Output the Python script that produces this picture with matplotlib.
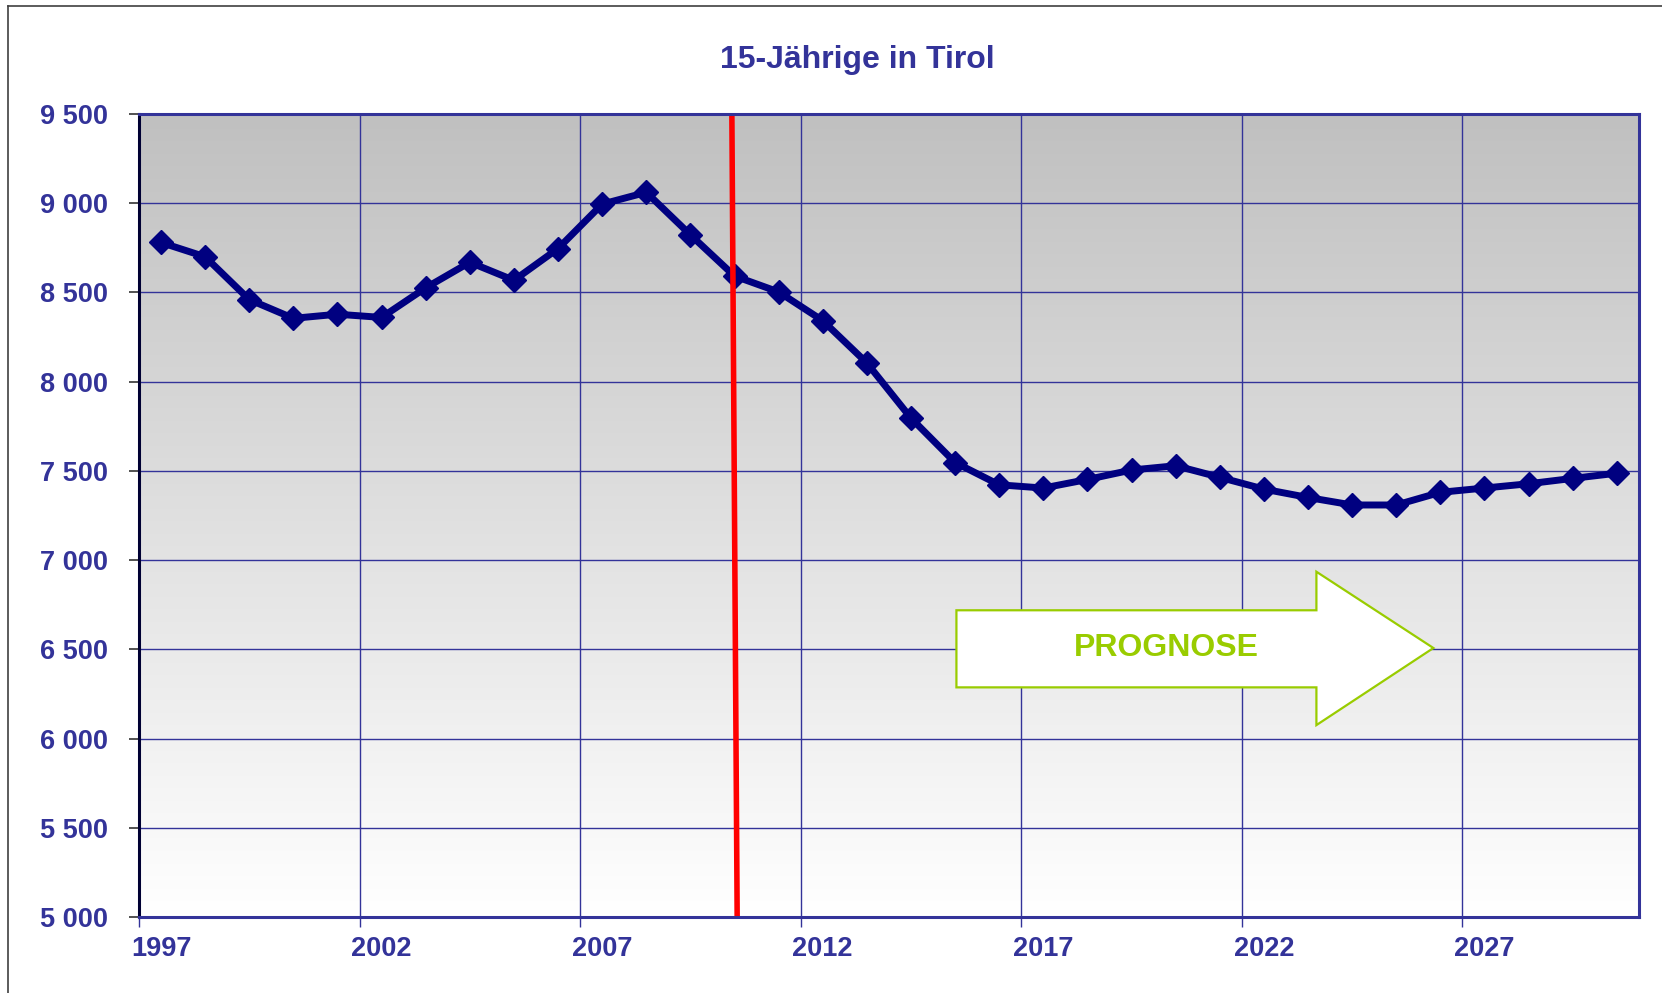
import matplotlib
matplotlib.use("Agg")
import matplotlib.pyplot as plt
import numpy as np
from matplotlib.patches import Polygon
from matplotlib.lines import Line2D

plt.rcParams["font.family"] = ["Liberation Sans", "DejaVu Sans"]

years = list(range(1997, 2031))
values = [8780, 8700, 8460, 8355, 8378, 8360, 8526, 8669, 8568, 8746,
          8995, 9061, 8823, 8592, 8503, 8342, 8105, 7796, 7547, 7422,
          7404, 7452, 7505, 7529, 7464, 7398, 7351, 7309, 7309, 7380,
          7404, 7428, 7458, 7487]
label_years = [1997, 2002, 2007, 2012, 2017, 2022, 2027]
y_ticks = [5000, 5500, 6000, 6500, 7000, 7500, 8000, 8500, 9000, 9500]

TXT = "#333399"
NAVY = "#000080"
GREEN = "#99cc00"

fig = plt.figure(figsize=(16.62, 9.93), dpi=100)
ax = fig.add_axes([0.0836, 0.0765, 0.9025, 0.8087])

n = len(years)
xs = np.arange(n) + 0.5
ax.set_xlim(0, n)
ax.set_ylim(5000, 9500)

# gray -> white gradient background
grad = np.linspace(1.0, 0.0, 256).reshape(-1, 1)
ax.imshow(grad, extent=[0, 1, 0, 1], transform=ax.transAxes, aspect="auto",
          cmap=matplotlib.colors.LinearSegmentedColormap.from_list(
              "g", ["#ffffff", "#c0c0c0"]), vmin=0, vmax=1, zorder=0)

# grid
for yt in y_ticks[1:-1]:
    ax.axhline(yt, color=TXT, lw=1.0, zorder=1)
for b in range(5, n, 5):
    ax.axvline(b, color=TXT, lw=1.0, zorder=1)

ax.plot(xs, values, color=NAVY, lw=5.0, marker="D", markersize=12.5,
        markeredgecolor=NAVY, zorder=4)

# red separator line (slightly slanted)
ax.plot([13.44, 13.56], [9500, 5000], color="#ff0000", lw=4.0, zorder=5,
        solid_capstyle="butt", clip_on=False)

# PROGNOSE arrow
arrow = Polygon([(0.545, 0.382), (0.785, 0.382), (0.785, 0.430),
                 (0.863, 0.335), (0.785, 0.239), (0.785, 0.286),
                 (0.545, 0.286)], closed=True, transform=ax.transAxes,
                fc="white", ec=GREEN, lw=1.6, zorder=6)
ax.add_patch(arrow)
ax.text(0.685, 0.335, "PROGNOSE", transform=ax.transAxes, ha="center",
        va="center", fontsize=23, fontweight="bold", color=GREEN, zorder=7)

# ticks
ax.set_yticks(y_ticks)
ax.set_yticklabels([f"{v:,}".replace(",", " ") for v in y_ticks])
ax.tick_params(axis="y", direction="out", length=7, width=1.2,
               color="#333333", labelsize=19.5, labelcolor=TXT, pad=15)
ax.set_xticks(range(0, n, 5))
ax.set_xticklabels([])
ax.tick_params(axis="x", which="major", direction="out", length=7,
               width=1.0, color=TXT)
ax.set_xticks([years.index(y) + 0.5 for y in label_years], minor=True)
ax.set_xticklabels([str(y) for y in label_years], minor=True)
ax.tick_params(axis="x", which="minor", length=0, labelsize=19.5,
               labelcolor=TXT, pad=14)
for lab in ax.get_xticklabels(minor=True) + ax.get_yticklabels():
    lab.set_fontweight("bold")

for s in ["top", "right", "bottom"]:
    ax.spines[s].set_color(TXT)
    ax.spines[s].set_linewidth(2.2)
ax.spines["left"].set_color("#000033")
ax.spines["left"].set_linewidth(2.2)
for s in ax.spines.values():
    s.set_zorder(8)

fig.text(0.516, 0.94, "15-Jährige in Tirol", ha="center", va="center",
         fontsize=23, fontweight="bold", color=TXT)

# outer chart frame (left and top edges)
fig.add_artist(Line2D([0.005, 0.005], [0.0, 0.994], color="#404040", lw=1.2,
                      transform=fig.transFigure))
fig.add_artist(Line2D([0.005, 1.0], [0.994, 0.994], color="#404040", lw=1.2,
                      transform=fig.transFigure))

fig.savefig("out.png", dpi=100)
